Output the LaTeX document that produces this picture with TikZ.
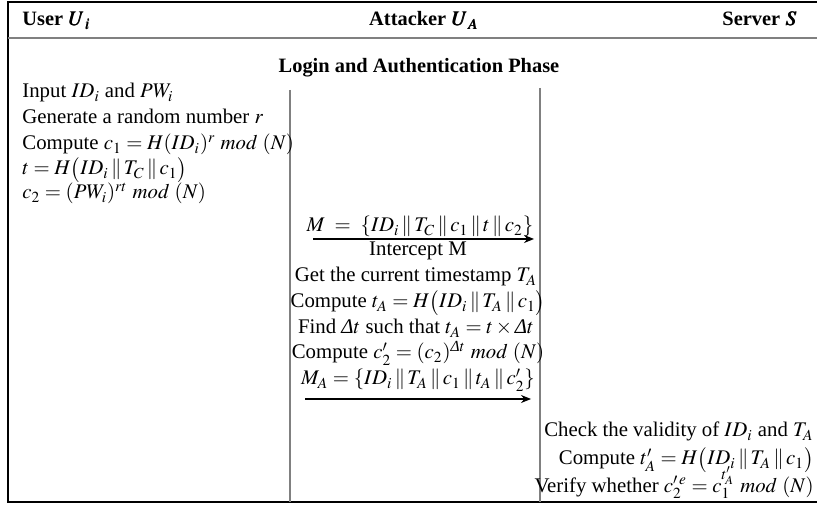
\documentclass[tikz,border=0pt]{standalone}
\usepackage{amsmath}
\usepackage{mathptmx}
\usepackage{bm}
\usepackage{fontspec}
\setmainfont{Liberation Serif}
\usetikzlibrary{arrows.meta}

\newcommand{\cat}{\,\|\,}
\newcommand{\dlt}{\text{\itshape Δ}}

\begin{document}
\begin{tikzpicture}[x=0.5pt,y=-0.5pt,
		txt/.style={inner sep=0pt,font=\fontsize{10.4}{12.5}\selectfont},
		hdr/.style={inner sep=0pt,font=\fontsize{10.2}{12}\selectfont\bfseries},
		lane/.style={draw=black!50,line width=1pt},
		msg/.style={-{Stealth[length=5pt,width=4pt]},line width=0.6pt}]
				\useasboundingbox (0,0) rectangle (817,506);
				
				% frame
				\coordinate (tl) at (8,2);
				\coordinate (tr) at (817,2);
				\coordinate (bl) at (8,502);
				\coordinate (br) at (817,502);
				\draw[line width=0.6pt] (tr) -- (tl) -- (bl) -- (br);
				\coordinate (sepl) at (8,38);
				\coordinate (sepr) at (817,38);
				\draw[lane] (sepl) -- (sepr);
				
				% header
				\node[hdr,anchor=base west] (usr) at (22,26) {User $\bm{U_i}$};
				\node[hdr,anchor=base] (atk) at (424,26) {Attacker $\bm{U_A}$};
				\node[hdr,anchor=base east] (srv) at (797,26) {Server $\bm{S}$};
				\node[hdr,anchor=base] (phase) at (419,73) {Login and Authentication Phase};
				
				% lanes
				\coordinate (la) at (290,90);
				\coordinate (lb) at (290,502);
				\coordinate (ra) at (540,88);
				\coordinate (rb) at (540,502);
				\draw[lane] (la) -- (lb);
				\draw[lane] (ra) -- (rb);
				
				% user
				\node[txt,anchor=base west] (u1) at (22,98) {Input $ID_i$ and $PW_i$};
				\node[txt,anchor=base west] (u2) at (22,124) {Generate a random number $r$};
				\node[txt,anchor=base west] (u3) at (22,150) {Compute $c_1=H(ID_i)^r\ mod\ (N)$};
				\node[txt,anchor=base west] (u4) at (22,175) {$t=H\bigl(ID_i\cat T_C\cat c_1\bigr)$};
				\node[txt,anchor=base west] (u5) at (22,199) {$c_2=(PW_i)^{rt}\ mod\ (N)$};
				
				% first message
				\coordinate (m1s) at (313,239);
				\coordinate (m1e) at (534,239);
				\draw[msg] (m1s) -- (m1e);
				\node[txt,anchor=base] (m1) at (420,232) {$M\ =\ \{ID_i\cat T_C\cat c_1\cat t\cat c_2\}$};
				
				% attacker
				\node[txt,anchor=base] (a1) at (418,256) {Intercept M};
				\node[txt,anchor=base] (a2) at (416,282) {Get the current timestamp $T_A$};
				\node[txt,anchor=base] (a3) at (418,308) {Compute $t_A=H\bigl(ID_i\cat T_A\cat c_1\bigr)$};
				\node[txt,anchor=base] (a4) at (416,334) {Find $\dlt t$ such that $t_A=t\times\dlt t$};
				\node[txt,anchor=base] (a5) at (418,359) {Compute $c_2'=(c_2)^{\dlt t}\ mod\ (N)$};
				\node[txt,anchor=base] (m2) at (418,385) {$M_A=\{ID_i\cat T_A\cat c_1\cat t_A\cat c_2'\}$};
				
				% second message
				\coordinate (m2s) at (305,399);
				\coordinate (m2e) at (531,399);
				\draw[msg] (m2s) -- (m2e);
				
				% server
				\node[txt,anchor=base east] (s1) at (814,437) {Check the validity of $ID_i$ and $T_A$};
				\node[txt,anchor=base east] (s2) at (814,465) {Compute $t_A'=H\bigl(ID_i\cat T_A\cat c_1\bigr)$};
				\node[txt,anchor=base east] (s3) at (814,492) {Verify whether $c_2'^{\,e}=c_1^{t_A'}\ mod\ (N)$};
			\end{tikzpicture}
\end{document}
